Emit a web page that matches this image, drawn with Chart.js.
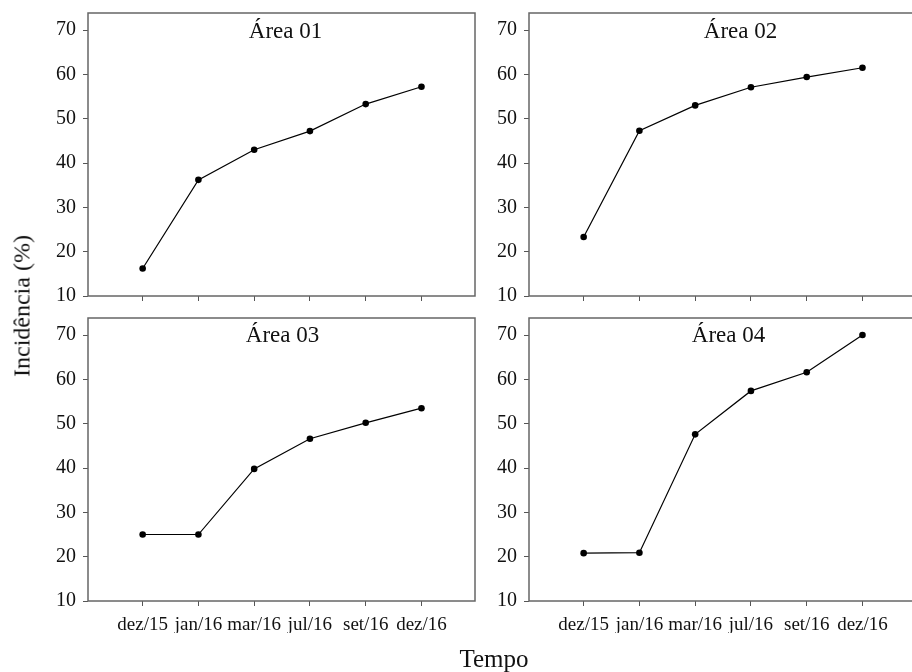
<!DOCTYPE html>
<html>
<head>
<meta charset="utf-8">
<script src="https://cdn.jsdelivr.net/npm/chart.js@4.4.1/dist/chart.umd.min.js"></script>
<style>
body { margin: 0; background: #fff; overflow: hidden; width: 912px; height: 672px; position: relative; }
canvas { position: absolute; left: 0; top: 0; }
.tit { position: absolute; font-family: "Liberation Serif", "Times New Roman", serif; font-size: 24px; color: #111; white-space: nowrap; }
#ytit { left: 22px; top: 306px; transform: translate(-50%, -50%) rotate(-90deg); }
#xtit { left: 494px; top: 659px; font-size: 25px; transform: translate(-50%, -50%); }
</style>
</head>
<body>
<canvas id="c1" width="930" height="672"></canvas>
<canvas id="c2" width="930" height="672"></canvas>
<canvas id="c3" width="930" height="672"></canvas>
<canvas id="c4" width="930" height="672"></canvas>
<div class="tit" id="ytit">Incidência (%)</div>
<div class="tit" id="xtit">Tempo</div>
<script>
// dados
let meses = ["dez/15", "jan/16", "mar/16", "jul/16", "set/16", "dez/16"]
let yTicks = [10, 20, 30, 40, 50, 60, 70]
let titulos = ["Área 01", "Área 02", "Área 03", "Área 04"]
let area01 = [16.2, 36.2, 43.0, 47.2, 53.3, 57.2]
let area02 = [23.3, 47.3, 53.0, 57.1, 59.4, 61.5]
let area03 = [25.0, 25.0, 39.8, 46.6, 50.2, 53.5]
let area04 = [20.8, 20.9, 47.6, 57.4, 61.6, 70.0]

let fonte = "'Liberation Serif', 'Times New Roman', serif"

// moldura e titulo de cada painel
let moldura = {
    id: 'moldura',
    afterDraw(chart, args, opts) {
        let a = chart.chartArea
        let ctx = chart.ctx
        ctx.save()
        ctx.strokeStyle = '#666'
        ctx.lineWidth = 1.5
        ctx.strokeRect(a.left, a.top, a.right - a.left, a.bottom - a.top)
        ctx.fillStyle = '#111'
        ctx.font = '23px ' + fonte
        ctx.textAlign = 'center'
        ctx.textBaseline = 'alphabetic'
        ctx.fillText(opts.texto, (a.left + a.right) / 2 + opts.dx, a.top + opts.dy)
        ctx.restore()
    }
}

function painel(id, valores, titulo, pad, baixo, dx, dy) {
    let ctx = document.getElementById(id)
    let dados = {
        datasets: [{
            data: valores.map((v, i) => ({x: i, y: v})),
            borderColor: '#000',
            borderWidth: 1.2,
            pointRadius: 3.3,
            pointBackgroundColor: '#000',
            pointBorderWidth: 0,
            tension: 0,
        }],
    }
    let opcoes = {
        responsive: false,
        animation: false,
        events: [],
        layout: { padding: pad, autoPadding: false },
        plugins: {
            legend: { display: false },
            tooltip: { enabled: false },
            moldura: { texto: titulo, dx: dx, dy: dy },
        },
        scales: {
            x: {
                type: 'linear',
                min: -0.98,
                max: 5.96,
                border: { display: false },
                grid: { drawOnChartArea: false, tickLength: 5, color: '#555', lineWidth: 1 },
                ticks: {
                    display: baixo,
                    maxRotation: 0,
                    autoSkip: false,
                    padding: 8,
                    color: '#111',
                    font: { family: fonte, size: 19 },
                    callback: (v) => meses[v],
                },
                afterBuildTicks: (s) => { s.ticks = meses.map((m, i) => ({value: i})) },
                afterFit: (s) => {
                    s.height = baixo ? 32 : 8
                    s.paddingLeft = 0
                    s.paddingRight = 0
                },
            },
            y: {
                min: 10,
                max: 73.85,
                border: { display: false },
                grid: { drawOnChartArea: false, tickLength: 5, color: '#555', lineWidth: 1 },
                ticks: {
                    padding: 7,
                    color: '#111',
                    font: { family: fonte, size: 20 },
                },
                afterBuildTicks: (s) => { s.ticks = yTicks.map((t) => ({value: t})) },
                afterFit: (s) => {
                    s.width = 42
                    s.paddingTop = 0
                    s.paddingBottom = 0
                },
            },
        },
    }
    new Chart(ctx, { type: 'line', data: dados, options: opcoes, plugins: [moldura] })
}

painel('c1', area01, titulos[0], {left: 46, right: 455, top: 13, bottom: 368}, false, 4, 25)
painel('c2', area02, titulos[1], {left: 487, right: 14, top: 13, bottom: 368}, false, 18, 25)
painel('c3', area03, titulos[2], {left: 46, right: 455, top: 318, bottom: 39}, true, 1, 24)
painel('c4', area04, titulos[3], {left: 487, right: 14, top: 318, bottom: 39}, true, 6, 24)
</script>
</body>
</html>
